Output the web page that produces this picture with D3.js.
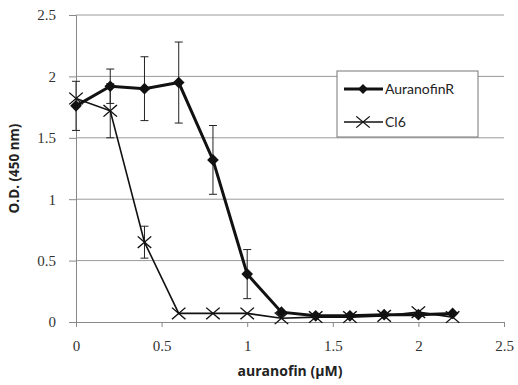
<!DOCTYPE html>
<html>
<head>
<meta charset="utf-8">
<script src="https://cdn.jsdelivr.net/npm/d3@7"></script>
<style>
  body { margin: 0; background: #fff; }
</style>
</head>
<body>
<div id="chart"></div>
<script>
// concentrations (µM)
var doses = [0, 0.2, 0.4, 0.6, 0.8, 1.0, 1.2, 1.4, 1.6, 1.8, 2.0, 2.2];
// O.D. readings
var auranofinR = [1.76, 1.92, 1.90, 1.95, 1.32, 0.39, 0.08, 0.05, 0.05, 0.06, 0.06, 0.07];
var auranofinRErr = [0.2, 0.14, 0.26, 0.33, 0.28, 0.2, 0, 0, 0, 0, 0, 0];
var cl6 = [1.82, 1.72, 0.65, 0.07, 0.07, 0.07, 0.03, 0.04, 0.04, 0.05, 0.08, 0.04];
var cl6Err = [0, 0.22, 0.13, 0, 0, 0, 0, 0, 0, 0, 0, 0];
var xTicks = [0, 0.5, 1, 1.5, 2, 2.5];
var yTicks = [0, 0.5, 1, 1.5, 2, 2.5];

var width = 518, height = 385;
var margin = { top: 15, right: 14, bottom: 63, left: 76 };

var svg = d3.select("#chart").append("svg")
  .attr("width", width).attr("height", height);

var x = d3.scaleLinear().domain([0, 2.5]).range([margin.left, width - margin.right]);
var y = d3.scaleLinear().domain([0, 2.5]).range([height - margin.bottom, margin.top]);

var numFont = "'Liberation Serif', serif";
var labelFont = "'Open Sans', sans-serif";

// 网格线
svg.append("g").selectAll("line").data(yTicks.filter(function (d) { return d > 0; })).enter()
  .append("line")
  .attr("x1", x(0)).attr("x2", x(2.5))
  .attr("y1", function (d) { return y(d); }).attr("y2", function (d) { return y(d); })
  .attr("stroke", "#9a9a9a").attr("stroke-width", 1);

// y轴
var yAxis = svg.append("g")
  .attr("transform", "translate(" + x(0) + ",0)")
  .call(d3.axisLeft(y).tickValues(yTicks).tickSize(7).tickPadding(13).tickFormat(d3.format("")));
yAxis.select(".domain").attr("stroke", "#888");
yAxis.selectAll(".tick line").attr("stroke", "#888");
yAxis.selectAll("text").style("font-family", numFont).style("font-size", "15px").attr("fill", "#333");

// x轴
var xAxis = svg.append("g")
  .attr("transform", "translate(0," + y(0) + ")")
  .call(d3.axisBottom(x).tickValues(xTicks).tickSize(5).tickPadding(13).tickFormat(d3.format("")));
xAxis.select(".domain").attr("stroke", "#888");
xAxis.selectAll(".tick line").attr("stroke", "#888");
xAxis.selectAll("text").style("font-family", numFont).style("font-size", "15px").attr("fill", "#333");

// 轴标题
svg.append("text")
  .attr("transform", "translate(19," + (margin.top + y(0)) / 2 + ")rotate(-90)")
  .attr("text-anchor", "middle")
  .style("font-family", labelFont).style("font-size", "13.5px").style("font-weight", "bold")
  .attr("fill", "#222")
  .text("O.D. (450 nm)");
svg.append("text")
  .attr("x", (x(0) + x(2.5)) / 2).attr("y", 376)
  .attr("text-anchor", "middle")
  .style("font-family", labelFont).style("font-size", "14px").style("font-weight", "bold")
  .attr("fill", "#222")
  .text("auranofin (\u00b5M)");

var rows1 = doses.map(function (d, i) { return { x: d, y: auranofinR[i], e: auranofinRErr[i] }; });
var rows2 = doses.map(function (d, i) { return { x: d, y: cl6[i], e: cl6Err[i] }; });

var line = d3.line().x(function (d) { return x(d.x); }).y(function (d) { return y(d.y); });

function errorBars(rows) {
  var g = svg.append("g").attr("stroke", "#222").attr("stroke-width", 1);
  var r = rows.filter(function (d) { return d.e > 0; });
  g.selectAll(".v").data(r).enter().append("line")
    .attr("x1", function (d) { return x(d.x); }).attr("x2", function (d) { return x(d.x); })
    .attr("y1", function (d) { return y(d.y - d.e); }).attr("y2", function (d) { return y(d.y + d.e); });
  [-1, 1].forEach(function (s) {
    g.selectAll(".c" + s).data(r).enter().append("line")
      .attr("x1", function (d) { return x(d.x) - 4; }).attr("x2", function (d) { return x(d.x) + 4; })
      .attr("y1", function (d) { return y(d.y + s * d.e); }).attr("y2", function (d) { return y(d.y + s * d.e); });
  });
}
errorBars(rows1);
errorBars(rows2);

// Cl6 线
svg.append("path").datum(rows2)
  .attr("fill", "none").attr("stroke", "#111").attr("stroke-width", 1.6)
  .attr("d", line);
var crossSym = d3.symbol().type(d3.symbolX).size(100);
svg.append("g").selectAll("path").data(rows2).enter().append("path")
  .attr("transform", function (d) { return "translate(" + x(d.x) + "," + y(d.y) + ")scale(1.1,0.95)"; })
  .attr("d", crossSym)
  .attr("fill", "none").attr("stroke", "#111").attr("stroke-width", 1.3);

// AuranofinR 线
svg.append("path").datum(rows1)
  .attr("fill", "none").attr("stroke", "#111").attr("stroke-width", 3)
  .attr("d", line);
var diamond = d3.symbol().type(d3.symbolSquare).size(68);
svg.append("g").selectAll("path").data(rows1).enter().append("path")
  .attr("transform", function (d) { return "translate(" + x(d.x) + "," + y(d.y) + ")rotate(45)"; })
  .attr("d", diamond)
  .attr("fill", "#111");

// 图例
var legend = svg.append("g").attr("transform", "translate(337,71)");
legend.append("rect").attr("width", 141).attr("height", 66)
  .attr("fill", "#fff").attr("stroke", "#777").attr("stroke-width", 1);
legend.append("line").attr("x1", 7).attr("x2", 46).attr("y1", 18).attr("y2", 18)
  .attr("stroke", "#111").attr("stroke-width", 3);
legend.append("path").attr("transform", "translate(26,18)rotate(45)").attr("d", d3.symbol().type(d3.symbolSquare).size(50)).attr("fill", "#111");
legend.append("line").attr("x1", 7).attr("x2", 46).attr("y1", 51).attr("y2", 51)
  .attr("stroke", "#111").attr("stroke-width", 1.3);
legend.append("path").attr("transform", "translate(26,51)scale(1.1,0.9)").attr("d", crossSym)
  .attr("fill", "none").attr("stroke", "#111").attr("stroke-width", 1.2);
legend.selectAll("text.lab").data(["AuranofinR", "Cl6"]).enter().append("text")
  .attr("x", 48).attr("y", function (d, i) { return 18 + i * 33; }).attr("dy", "0.35em")
  .style("font-family", "Lato, sans-serif").style("font-size", "14px").attr("fill", "#222")
  .text(function (d) { return d; });
</script>
</body>
</html>
